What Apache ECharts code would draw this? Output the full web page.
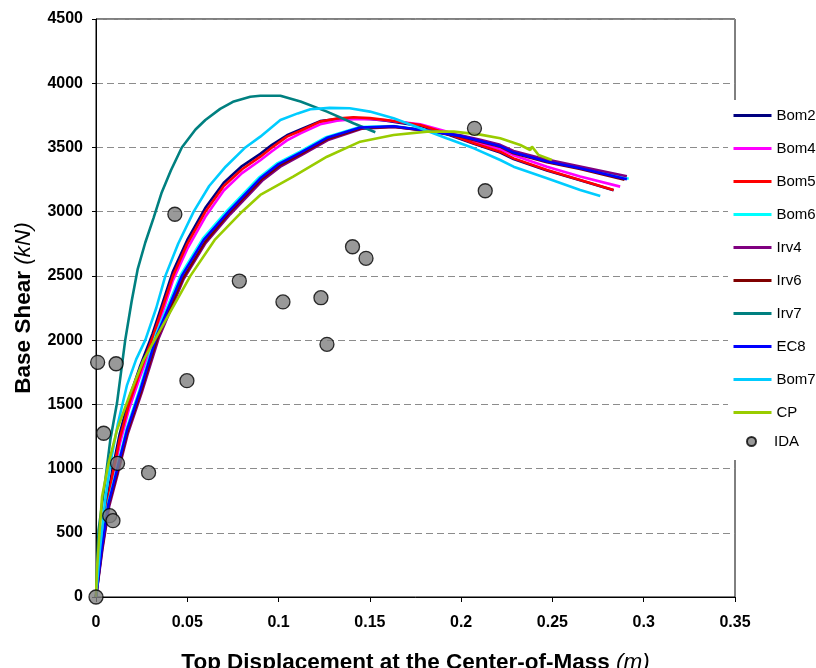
<!DOCTYPE html>
<html>
<head>
<meta charset="utf-8">
<script src="https://cdn.jsdelivr.net/npm/echarts@6/dist/echarts.min.js"></script>
<style>
html,body{margin:0;padding:0;background:#fff;}
#c{width:816px;height:668px;}
</style>
</head>
<body>
<div id="c"></div>
<script>
var FONT = "'Liberation Sans', Arial, sans-serif";

var seriesNames = ['Bom2','Bom4','Bom5','Bom6','Irv4','Irv6','Irv7','EC8','Bom7','CP'];
var seriesColors = ['#000080','#FF00FF','#FF0000','#00FFFF','#800080','#800000','#008080','#0000FF','#00CCFF','#99CC00'];

var xTicks = [0,0.05,0.1,0.15,0.2,0.25,0.3,0.35];
var yTicks = [0,500,1000,1500,2000,2500,3000,3500,4000,4500];

var bom2 = [[0,0],[0.002,330],[0.005,660],[0.009,990],[0.013,1270],[0.018,1540],[0.024,1790],[0.031,2050],[0.042,2530],[0.05,2780],[0.0599,3030],[0.07,3225],[0.08,3355],[0.09,3450],[0.0964,3520],[0.1046,3595],[0.112,3640],[0.1228,3705],[0.132,3722],[0.141,3728],[0.15,3722],[0.159,3708],[0.1776,3668],[0.192,3605],[0.207,3528],[0.2214,3460],[0.2287,3410],[0.247,3320],[0.2652,3244],[0.2835,3166]];
var bom4 = [[0,0],[0.002,280],[0.005,590],[0.009,915],[0.013,1190],[0.018,1460],[0.024,1710],[0.031,1975],[0.042,2460],[0.05,2710],[0.0599,2960],[0.07,3165],[0.08,3300],[0.09,3400],[0.0964,3470],[0.1046,3555],[0.112,3610],[0.1228,3680],[0.132,3708],[0.141,3720],[0.15,3722],[0.159,3712],[0.1776,3680],[0.192,3625],[0.207,3548],[0.2214,3485],[0.2287,3440],[0.247,3350],[0.2652,3273],[0.2871,3195]];
var bom5 = [[0,0],[0.002,300],[0.005,620],[0.009,950],[0.013,1230],[0.018,1500],[0.024,1750],[0.031,2020],[0.0422,2500],[0.05,2750],[0.0599,3000],[0.07,3200],[0.08,3330],[0.09,3428],[0.0964,3500],[0.1046,3584],[0.112,3630],[0.1228,3701],[0.132,3725],[0.141,3735],[0.15,3728],[0.159,3714],[0.1776,3675],[0.192,3610],[0.207,3532],[0.2214,3467],[0.2287,3415],[0.247,3324],[0.2652,3247],[0.2835,3169]];
var bom6 = [[0,0],[0.0033,400],[0.0068,740],[0.0113,995],[0.0168,1310],[0.024,1620],[0.033,2050],[0.0465,2510],[0.0585,2790],[0.072,3010],[0.0895,3268],[0.0995,3378],[0.1115,3466],[0.126,3580],[0.144,3658],[0.163,3667],[0.1813,3632],[0.1995,3592],[0.2105,3552],[0.2214,3512],[0.2287,3462],[0.247,3392],[0.2652,3340],[0.2918,3256]];
var irv4 = [[0,0],[0.0035,370],[0.0072,705],[0.012,965],[0.0175,1275],[0.025,1590],[0.0342,2010],[0.048,2475],[0.06,2755],[0.0735,2980],[0.091,3240],[0.101,3350],[0.113,3445],[0.1275,3560],[0.1455,3645],[0.163,3660],[0.1813,3632],[0.1995,3595],[0.2105,3560],[0.2214,3520],[0.2287,3472],[0.247,3405],[0.2652,3352],[0.2908,3275]];
var irv6 = [[0,0],[0.0034,380],[0.007,718],[0.0118,975],[0.0173,1290],[0.0247,1600],[0.0338,2025],[0.0477,2485],[0.0597,2765],[0.073,2990],[0.0905,3250],[0.1005,3360],[0.1125,3452],[0.127,3568],[0.145,3650],[0.163,3662],[0.1813,3628],[0.1995,3585],[0.2105,3545],[0.2214,3505],[0.2287,3455],[0.247,3385],[0.2652,3332],[0.2895,3248]];
var irv7 = [[0,0],[0.0014,520],[0.0051,910],[0.0078,1220],[0.0115,1510],[0.016,2000],[0.0195,2300],[0.0228,2550],[0.027,2760],[0.0315,2950],[0.036,3150],[0.041,3320],[0.047,3500],[0.0545,3640],[0.0599,3714],[0.068,3800],[0.075,3855],[0.0845,3895],[0.09,3903],[0.101,3903],[0.112,3857],[0.1265,3779],[0.141,3688],[0.153,3618]];
var ec8 = [[0,0],[0.0033,392],[0.0069,730],[0.0115,989],[0.017,1300],[0.0243,1612],[0.0334,2040],[0.047,2500],[0.059,2780],[0.0726,3000],[0.09,3260],[0.1,3370],[0.112,3460],[0.1265,3575],[0.1447,3655],[0.163,3665],[0.1813,3630],[0.1995,3590],[0.2105,3550],[0.2214,3510],[0.2287,3460],[0.247,3390],[0.2652,3338],[0.2908,3252]];
var bom7 = [[0,0],[0.002,350],[0.005,750],[0.008,1050],[0.012,1350],[0.017,1650],[0.022,1850],[0.027,2000],[0.033,2250],[0.038,2500],[0.045,2750],[0.0535,3000],[0.062,3200],[0.071,3350],[0.0818,3500],[0.09,3584],[0.101,3714],[0.1105,3765],[0.1174,3797],[0.128,3808],[0.139,3805],[0.15,3779],[0.163,3727],[0.1776,3649],[0.192,3571],[0.207,3493],[0.2214,3402],[0.2287,3350],[0.247,3260],[0.2652,3169],[0.2762,3122]];
var cp = [[0,0],[0.0005,210],[0.0033,781],[0.0069,1041],[0.0115,1300],[0.0188,1586],[0.026,1845],[0.0352,2079],[0.0517,2500],[0.065,2780],[0.08,3000],[0.09,3130],[0.108,3273],[0.1265,3428],[0.1447,3545],[0.163,3597],[0.1813,3623],[0.196,3623],[0.2105,3600],[0.2214,3571],[0.2324,3519],[0.2378,3480],[0.2388,3506],[0.2424,3441],[0.2497,3402]];

var idaX = [0,0.0009,0.011,0.0042,0.0118,0.0075,0.0093,0.0288,0.0498,0.0432,0.0785,0.1024,0.1232,0.1405,0.1479,0.1265,0.2073,0.2132];
var idaY = [0,1827,1816,1275,1041,633,594,968,1684,2980,2460,2297,2330,2727,2637,1967,3649,3163];

var lineData = [bom2,bom4,bom5,bom6,irv4,irv6,irv7,ec8,bom7,cp];

var series = [];
for (var i = 0; i < seriesNames.length; i++) {
  series.push({
    name: seriesNames[i],
    type: 'line',
    data: lineData[i],
    symbol: 'none',
    smooth: false,
    lineStyle: { color: seriesColors[i], width: 2.6 },
    itemStyle: { color: seriesColors[i] },
    z: 2 + i
  });
}
var idaData = idaX.map(function (x, k) { return [x, idaY[k]]; });
series.push({
  name: 'IDA',
  type: 'scatter',
  data: idaData,
  symbol: 'circle',
  symbolSize: 14,
  itemStyle: { color: '#808080', borderColor: '#000', borderWidth: 1.3 },
  z: 20
});

var chart = echarts.init(document.getElementById('c'), null, { renderer: 'canvas' });
chart.setOption({
  animation: false,
  backgroundColor: '#fff',
  textStyle: { fontFamily: FONT },
  grid: { left: 96, right: 81, top: 19, bottom: 71, show: true, borderColor: '#000', borderWidth: 1, backgroundColor: 'transparent', containLabel: false, outerBoundsMode: 'none' },
  xAxis: {
    type: 'value',
    min: xTicks[0], max: xTicks[xTicks.length - 1], interval: 0.05,
    name: '{b|Top Displacement at the Center-of-Mass }{i|(m)}',
    nameLocation: 'middle', nameGap: 54,
    nameTextStyle: { rich: {
      b: { fontFamily: FONT, fontWeight: 'bold', fontSize: 22.5, color: '#000' },
      i: { fontFamily: FONT, fontStyle: 'italic', fontSize: 22.5, color: '#000' }
    } },
    axisLine: { show: true, lineStyle: { color: '#000', width: 1 } },
    axisTick: { show: true, inside: false, length: 5, lineStyle: { color: '#000' } },
    axisLabel: { fontFamily: FONT, fontWeight: 'bold', fontSize: 16, color: '#000', margin: 18,
      formatter: function (v) { return String(Math.round(v * 1000) / 1000); } },
    splitLine: { show: false }
  },
  yAxis: {
    type: 'value',
    min: yTicks[0], max: yTicks[yTicks.length - 1], interval: 500,
    name: '{b|Base Shear }{i|(kN)}',
    nameLocation: 'middle', nameGap: 61, nameRotate: 90,
    nameTextStyle: { rich: {
      b: { fontFamily: FONT, fontWeight: 'bold', fontSize: 22.5, color: '#000' },
      i: { fontFamily: FONT, fontStyle: 'italic', fontSize: 22.5, color: '#000' }
    } },
    axisLine: { show: true, lineStyle: { color: '#000', width: 1 } },
    axisTick: { show: true, inside: false, length: 4, lineStyle: { color: '#000' } },
    axisLabel: { fontFamily: FONT, fontWeight: 'bold', fontSize: 16, color: '#000', margin: 13,
      formatter: function (v) { return String(v); } },
    splitLine: { show: true, lineStyle: { color: '#8c8c8c', width: 1, type: [7, 4] } }
  },
  legend: [{
    data: seriesNames,
    orient: 'vertical',
    left: 728, top: 100,
    padding: [8, 4, 40, 4],
    itemWidth: 38, itemHeight: 14, itemGap: 18,
    backgroundColor: '#fff',
    itemStyle: { opacity: 0 },
    lineStyle: { width: 3 },
    textStyle: { fontFamily: FONT, fontSize: 15, color: '#000' },
    selectedMode: false
  }, {
    data: ['IDA'],
    orient: 'vertical',
    left: 746, top: 434,
    padding: 0,
    itemWidth: 9, itemHeight: 9,
    textStyle: { fontFamily: FONT, fontSize: 15, color: '#000', padding: [0, 0, 0, 13] },
    selectedMode: false
  }],
  series: series
});
</script>
</body>
</html>
